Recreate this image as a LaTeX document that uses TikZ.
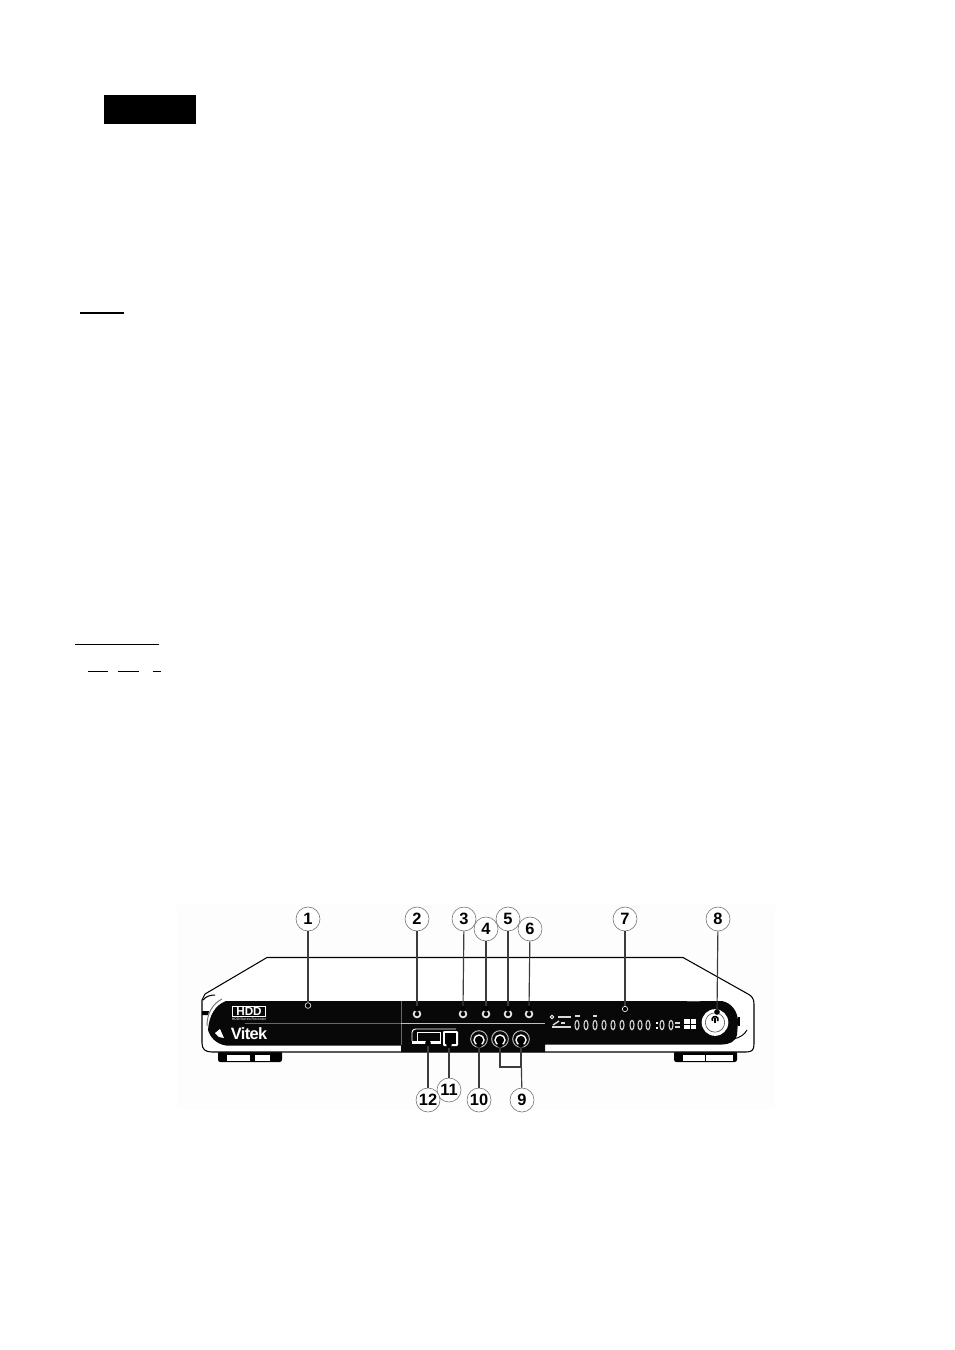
\documentclass[tikz,border=0pt]{standalone}
\usepackage{fontspec}
\setmainfont{Liberation Sans}
\definecolor{mypanel}{RGB}{8,8,8}
\definecolor{myback}{RGB}{253,253,253}
\definecolor{mylead}{RGB}{60,60,60}
\tikzset{
    callout/.style={circle, draw=black!55, line width=0.5pt, fill=white, minimum size=0.72cm, inner sep=0pt, font=\bfseries\fontsize{14}{14}\selectfont},
    leader/.style={draw=mylead, line width=1pt},
    rule/.style={draw=black, line width=1pt},
    pin/.style={circle, fill=black, minimum size=0.17cm, inner sep=0pt},
    hollowpin/.style={circle, draw=white, fill=black, line width=0.5pt, minimum size=0.17cm, inner sep=0pt},
    knob/.style={circle, draw=white!90!black, fill=black, line width=1.5pt, minimum size=0.2cm, inner sep=0pt},
    jack/.style={circle, draw=white, fill=black, line width=1.2pt, minimum size=0.3cm, inner sep=0pt},
    jackrim/.style={circle, draw=white!75!black, line width=0.8pt, minimum size=0.5cm, inner sep=0pt},
    digit/.style={ellipse, draw=white!80!black, line width=1pt, minimum width=0.12cm, minimum height=0.28cm, inner sep=0pt},
    strip/.style={draw=white!85!black, line width=1.2pt},
}
\usetikzlibrary{shapes.geometric}
\begin{document}
\begin{tikzpicture}[x=0.03cm, y=-0.03cm]
    \useasboundingbox (0, 0) rectangle (954, 1350);
    \fill[white] (0, 0) rectangle (954, 1350);
    \fill[myback] (177, 905) rectangle (775, 1110);
    % Blacked out heading and rules
    \node[fill=black, minimum width=2.76cm, minimum height=0.87cm, inner sep=0pt] (heading) at (150, 109.5) {};
    \coordinate (ruleA) at (80, 313);
    \coordinate (ruleB) at (124, 313);
    \coordinate (ruleC) at (75, 644.5);
    \coordinate (ruleD) at (159, 644.5);
    \coordinate (ruleE) at (88, 671.5);
    \coordinate (ruleF) at (108, 671.5);
    \coordinate (ruleG) at (118, 671.5);
    \coordinate (ruleH) at (139, 671.5);
    \coordinate (ruleI) at (153, 671.5);
    \coordinate (ruleJ) at (161, 671.5);
    \draw[rule] (ruleA) -- (ruleB);
    \draw[rule] (ruleC) -- (ruleD);
    \draw[rule] (ruleE) -- (ruleF);
    \draw[rule] (ruleG) -- (ruleH);
    \draw[rule] (ruleI) -- (ruleJ);
    % Feet
    \fill[black, rounded corners=2pt] (218, 1051) rectangle (282, 1062);
    \fill[white] (227, 1055) rectangle (270, 1060.5);
    \fill[black] (250, 1055) rectangle (255, 1060.5);
    \fill[black, rounded corners=2pt] (674, 1051) rectangle (737, 1062);
    \fill[white] (683, 1055) rectangle (733, 1060.5);
    \draw[black, line width=0.4pt] (705, 1055) -- (705, 1060.5);
    % Body
    \draw[fill=white, line width=0.9pt]
        (202, 1000)
        -- (205, 994)
        -- (267, 957.5)
        -- (683, 957.5)
        -- (748, 994)
        .. controls (752, 996) and (754, 999) .. (754, 1004)
        -- (754, 1044)
        .. controls (754, 1050) and (752, 1052) .. (746, 1052)
        -- (212, 1052)
        .. controls (205, 1052) and (202, 1049) .. (202, 1043)
        -- cycle;
    % Panel
    \fill[mypanel]
        (226, 1001)
        -- (722, 1001)
        .. controls (732, 1003) and (738, 1012) .. (738, 1022)
        -- (737, 1035)
        .. controls (735, 1042) and (730, 1044) .. (722, 1044.5)
        -- (545, 1044.5)
        -- (545, 1052)
        -- (401, 1052)
        -- (401, 1045.5)
        -- (226, 1045.5)
        .. controls (216, 1044) and (210, 1037) .. (208, 1030)
        .. controls (209, 1016) and (215, 1005) .. (226, 1001)
        -- cycle;
    % Left swoosh and right edge marks
    \draw[black!55, line width=0.8pt] (207, 1026) .. controls (207, 1014) and (212, 1004) .. (222, 999);
    \fill[black] (202, 1011) -- (209, 1011) -- (208, 1015) -- (202, 1015) -- cycle;
    \draw[black, line width=0.9pt] (203, 1000) .. controls (206, 996) and (211, 995) .. (215, 995);
    \draw[black, line width=1.4pt] (739, 1017) -- (739, 1026);
    \draw[black, line width=0.8pt] (733, 1039) .. controls (740, 1038) and (745, 1034) .. (747, 1030);
    \draw[black!70, line width=0.8pt] (687, 1001) -- (700, 1001);
    % Panel dividers
    \draw[black!60!white, line width=0.5pt] (401, 1001) -- (401, 1045);
    \draw[black!60!white, line width=0.5pt] (245, 1023) -- (401, 1023);
    \draw[white!75!black, line width=0.7pt] (401, 1023) -- (545, 1023);
    % Logo
    \node[draw=white, line width=1.1pt, minimum width=1cm, minimum height=0.3cm, inner sep=0pt, text=white, font=\bfseries\fontsize{10}{10}\selectfont] (hddlogo) at (249, 1011.5) {HDD};
    \node[text=white, inner sep=0pt, font=\fontsize{3}{3}\selectfont] (hddtext) at (249, 1019.5) {HDD/Stereo Recorder};
    \node[text=white, inner sep=0pt, font=\bfseries\fontsize{14}{14}\selectfont] (brand) at (249, 1034) {\addfontfeature{LetterSpace=-4}Vitek};
    \fill[white] (215, 1033) -- (220, 1029) -- (224, 1038) -- (219, 1037) -- cycle;
    % Controls
    \node[hollowpin] (lamp) at (308, 1005.5) {};
    \node[knob] (knobA) at (417, 1014) {};
    \node[knob] (knobB) at (463, 1014) {};
    \node[knob] (knobC) at (486, 1014) {};
    \node[knob] (knobD) at (508, 1014) {};
    \node[knob] (knobE) at (529, 1014) {};
    \node[pin] (pinA) at (417, 1009) {};
    \node[pin] (pinB) at (463, 1009) {};
    \node[pin] (pinC) at (486, 1009) {};
    \node[pin] (pinD) at (508, 1009) {};
    \node[pin] (pinE) at (529, 1009) {};
    \draw[white, line width=0.8pt, rounded corners=3pt] (412, 1041) -- (412, 1029) -- (456, 1029);
    \draw[white, line width=0.8pt] (417, 1032) -- (440, 1032) -- (440, 1042);
    \draw[white, line width=0.8pt] (417, 1032) -- (417, 1042);
    \draw[white, line width=1.8pt] (412, 1042.5) -- (441, 1042.5);
    \fill[white, rounded corners=1pt] (443, 1031) rectangle (458, 1046);
    \fill[black] (445, 1033) rectangle (456, 1044);
    \node[pin] (usbport) at (428, 1043) {};
    \node[pin] (squareport) at (449, 1044.5) {};
    \node[jackrim] (rimA) at (479, 1039) {};
    \node[jackrim] (rimB) at (500, 1039) {};
    \node[jackrim] (rimC) at (521, 1039) {};
    \node[jack] (jackA) at (479, 1040) {};
    \node[jack] (jackB) at (500, 1040) {};
    \node[jack] (jackC) at (521, 1040) {};
    \node[pin] (pinF) at (479, 1045) {};
    \node[pin] (pinG) at (500, 1045) {};
    \node[pin] (pinH) at (521, 1045) {};
    % Display
    \node[hollowpin, minimum size=0.16cm] (windowpin) at (625, 1009) {};
    \foreach \xpos/\dname in {577/a, 586/b, 595/c, 604/d, 613/e, 622/f, 632/g, 640/h, 648/i, 662/j, 671/k} {
        \node[digit] (digit\dname) at (\xpos, 1025) {};
    }
    \fill[white] (656, 1022) rectangle (657.5, 1023.5);
    \fill[white] (656, 1027) rectangle (657.5, 1028.5);
    \draw[white, line width=0.7pt] (552, 1017) circle (1.8);
    \draw[strip] (558, 1017) -- (571, 1017);
    \draw[strip] (553, 1025) -- (559, 1021);
    \draw[strip] (552, 1027) -- (571, 1027);
    \draw[strip] (561, 1023) -- (565, 1023);
    \draw[strip] (575, 1016) -- (580, 1016);
    \draw[strip] (593, 1016) -- (597, 1016);
    \draw[strip] (675, 1023) -- (680, 1023);
    \draw[strip] (675, 1027) -- (680, 1027);
    \fill[white] (684, 1019) rectangle (696, 1029);
    \draw[black, line width=0.6pt] (684, 1024) -- (696, 1024);
    \draw[black, line width=0.6pt] (690, 1019) -- (690, 1029);
    % Power button
    \node[circle, fill=white, minimum size=0.8cm, inner sep=0pt] (powerdisc) at (715, 1022.5) {};
    \node[circle, draw=black!70, line width=0.5pt, minimum size=0.58cm, inner sep=0pt] (powerring) at (715, 1022.5) {};
    \draw[black, line width=1.4pt] (712.5, 1021) arc[start angle=150, end angle=390, radius=3];
    \draw[black, line width=1.4pt] (715, 1018) -- (715, 1023);
    \node[pin] (powerpin) at (717, 1012) {};
    % Callouts
    \node[callout] (cA) at (308, 919) {1};
    \node[callout] (cB) at (417, 919) {2};
    \node[callout] (cC) at (464, 919) {3};
    \node[callout] (cD) at (486, 929) {4};
    \node[callout] (cE) at (508, 919) {5};
    \node[callout] (cF) at (530, 929) {6};
    \node[callout] (cG) at (625, 919) {7};
    \node[callout] (cH) at (718, 919) {8};
    \node[callout] (cI) at (522, 1100) {9};
    \node[callout] (cJ) at (479, 1100) {10};
    \node[callout] (cK) at (449, 1090) {11};
    \node[callout] (cL) at (428, 1100) {12};
    % Leaders
    \draw[leader] (cA) -- (lamp);
    \draw[leader] (cB) -- (pinA);
    \draw[leader] (cC) -- (pinB);
    \draw[leader] (cD) -- (pinC);
    \draw[leader] (cE) -- (pinD);
    \draw[leader] (cF) -- (pinE);
    \draw[leader] (cG) -- (windowpin);
    \draw[leader] (cH) -- (powerpin);
    \draw[leader] (cL) -- (usbport);
    \draw[leader] (cK) -- (squareport);
    \draw[leader] (cJ) -- (pinF);
    \draw[leader] (cI) -- (pinH);
    \draw[leader] (pinG) -- ++(0, 22) -| (pinH);
\end{tikzpicture}
\end{document}
